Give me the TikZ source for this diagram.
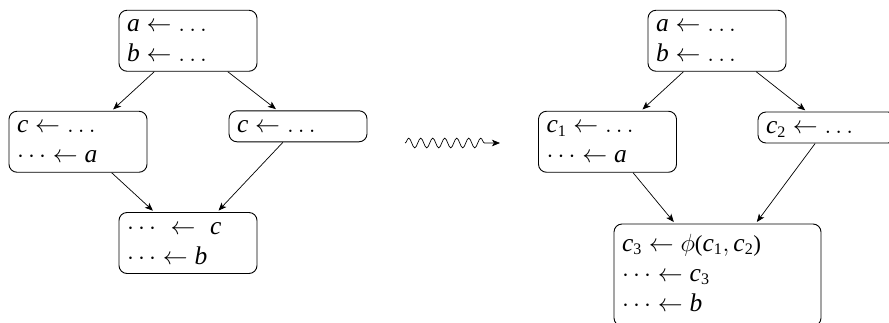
\documentclass[tikz,border=0pt]{standalone}
\usepackage{amsmath}
\usepackage{fontspec}
\setmainfont{Liberation Serif}
\usetikzlibrary{arrows.meta,decorations.pathmorphing}
\newcommand{\rowstrut}{\rule[-9pt]{0pt}{30pt}}
\newcommand{\vr}[1]{\text{\fontsize{25.5}{30}\selectfont\itshape #1}}
\newcommand{\vrs}[2]{\vr{#1}_{\text{#2}}}
\tikzset{
  block/.style={draw,line width=0.9pt,rounded corners=8pt,align=left,
    inner xsep=8pt,inner ysep=0.5pt,text width=122pt,
    font=\fontsize{23}{30}\selectfont},
  edge/.style={line width=0.7pt,-{Stealth[length=8pt,width=6.5pt,inset=2pt]},shorten >=2pt}
}
\begin{document}
\begin{tikzpicture}[x=1pt,y=-1pt]
    \useasboundingbox (0,0) rectangle (889,322);
    % before
    \node[block] (top) at (188,40.75){\rowstrut$\vr{a}\leftarrow\ldots$\\\rowstrut$\vr{b}\leftarrow\ldots$};
    \node[block] (left) at (78,141.75){\rowstrut$\vr{c}\leftarrow\ldots$\\\rowstrut$\cdots\leftarrow\vr{a}$};
    \node[block] (right) at (298,126.3){\rowstrut$\vr{c}\leftarrow\ldots$};
    \node[block] (join) at (188,243){\rowstrut$\cdots\ \leftarrow\ \vr{c}$\\\rowstrut$\cdots\leftarrow\vr{b}$};

    \draw[edge] (top) -- (left);
    \draw[edge] (top) -- (right);
    \draw[edge] (left) -- (join);
    \draw[edge] (right) -- (join);

    % rewrite
    \coordinate (from) at (405,143);
    \coordinate (to) at (500,143);
    \draw[line width=0.7pt,-{Stealth[length=8pt,width=6.5pt,inset=2pt]},
      decorate,decoration={snake,amplitude=4.8pt,segment length=12pt,post length=10pt}] (from) -- (to);

    % after
    \node[block] (top2) at (717,40.75){\rowstrut$\vr{a}\leftarrow\ldots$\\\rowstrut$\vr{b}\leftarrow\ldots$};
    \node[block] (left2) at (607.5,141.75){\rowstrut$\vrs{c}{1}\leftarrow\ldots$\\\rowstrut$\cdots\leftarrow\vr{a}$};
    \node[block] (right2) at (827,127.5){\rowstrut$\vrs{c}{2}\leftarrow\ldots$};
    \node[block,text width=191pt,inner ysep=6pt] (join2) at (717.5,275){\rowstrut$\vrs{c}{3}\leftarrow\phi\text{(}\vrs{c}{1},\vrs{c}{2}\text{)}$\\\rowstrut$\cdots\leftarrow\vrs{c}{3}$\\\rowstrut$\cdots\leftarrow\vr{b}$};

    \draw[edge] (top2) -- (left2);
    \draw[edge] (top2) -- (right2);
    \draw[edge] (left2) -- (join2);
    \draw[edge] (right2) -- (join2);
\end{tikzpicture}
\end{document}
